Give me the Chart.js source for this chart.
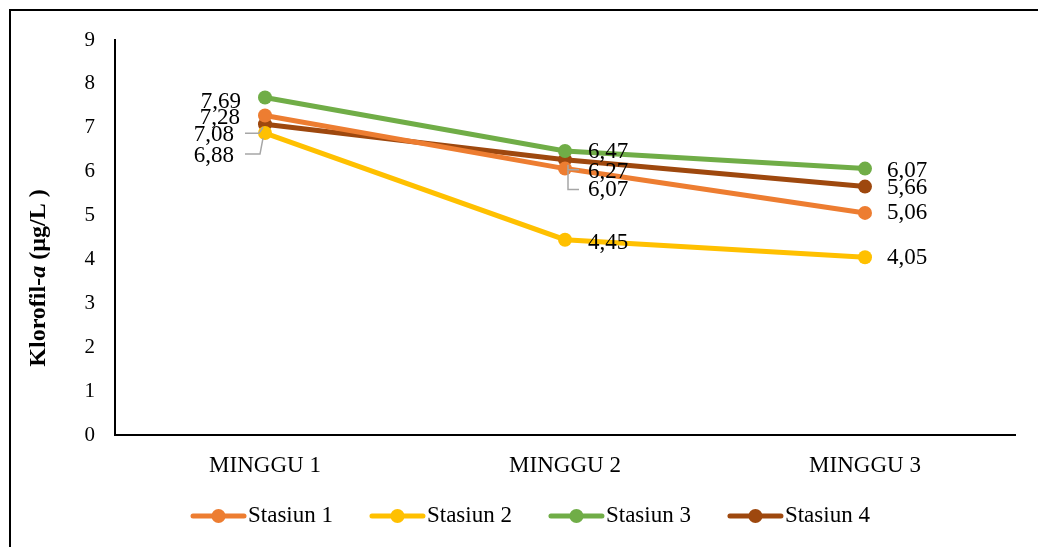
<!DOCTYPE html>
<html>
<head>
<meta charset="utf-8">
<script src="https://cdn.jsdelivr.net/npm/chart.js@4"></script>
<style>
  html, body { margin: 0; padding: 0; background: #ffffff; }
  #wrap { width: 1038px; height: 547px; position: relative; }
</style>
</head>
<body>
<div id="wrap"><canvas id="chart" width="1038" height="547"></canvas></div>
<script>
// Weekly chlorophyll-a readings (µg/L) at four stations
const categories = ['MINGGU 1', 'MINGGU 2', 'MINGGU 3'];
const stasiun1 = [7.28, 6.07, 5.06];
const stasiun2 = [6.88, 4.45, 4.05];
const stasiun3 = [7.69, 6.47, 6.07];
const stasiun4 = [7.08, 6.27, 5.66];
const seriesNames = ['Stasiun 1', 'Stasiun 2', 'Stasiun 3', 'Stasiun 4'];
const yTickValues = [0, 1, 2, 3, 4, 5, 6, 7, 8, 9];

const seriesValues = [stasiun1, stasiun2, stasiun3, stasiun4];
const seriesColors = ['#ED7D31', '#FFC000', '#70AD47', '#9E480E'];
const FONT = '"Liberation Serif", "Times New Roman", serif';

// Value-label placement relative to each point: offset, alignment and optional leader line
const labelLayout = [
  [ {dx: -25, dy: 2, align: 'right'},
    {dx: 23, dy: 21, align: 'left', leader: [[3, 2], [3, 21], [14, 21]]},
    {dx: 22, dy: 0, align: 'left'} ],
  [ {dx: -31, dy: 23, align: 'right', leader: [[-2, 5], [-5, 21], [-20, 21]]},
    {dx: 23, dy: 3, align: 'left'},
    {dx: 22, dy: 1, align: 'left'} ],
  [ {dx: -24, dy: 4, align: 'right'},
    {dx: 23, dy: 1, align: 'left'},
    {dx: 22, dy: 2, align: 'left'} ],
  [ {dx: -31, dy: 11, align: 'right', leader: [[-2, 3], [-6, 9], [-20, 9]]},
    {dx: 23, dy: 12, align: 'left', leader: [[3, 5], [3, 10], [14, 10]]},
    {dx: 22, dy: 1, align: 'left'} ]
];

const fmt = v => v.toFixed(2).replace('.', ',');

// Value labels with grey leader lines
const valueLabels = {
  id: 'valueLabels',
  afterDatasetsDraw(chart) {
    const ctx = chart.ctx;
    ctx.save();
    ctx.font = '23px ' + FONT;
    ctx.textBaseline = 'middle';
    chart.data.datasets.forEach((ds, i) => {
      const meta = chart.getDatasetMeta(i);
      meta.data.forEach((pt, j) => {
        const cfg = labelLayout[i][j];
        if (cfg.leader) {
          ctx.strokeStyle = '#A6A6A6';
          ctx.lineWidth = 1.5;
          ctx.beginPath();
          cfg.leader.forEach((p, k) => {
            const fn = k === 0 ? 'moveTo' : 'lineTo';
            ctx[fn](pt.x + p[0], pt.y + p[1]);
          });
          ctx.stroke();
        }
        ctx.fillStyle = '#000';
        ctx.textAlign = cfg.align;
        ctx.fillText(fmt(ds.data[j]), pt.x + cfg.dx, pt.y + cfg.dy);
      });
    });
    ctx.restore();
  }
};

// Frame, rotated y-axis title with italic "a", and bottom legend
const decorations = {
  id: 'decorations',
  afterDraw(chart) {
    const ctx = chart.ctx;
    ctx.save();
    // frame
    ctx.strokeStyle = '#000';
    ctx.lineWidth = 2;
    ctx.beginPath();
    ctx.moveTo(10, 547);
    ctx.lineTo(10, 10);
    ctx.lineTo(1038, 10);
    ctx.stroke();

    // y-axis title
    const parts = [
      {t: 'Klorofil-', f: 'bold 24px ' + FONT},
      {t: 'a', f: 'italic bold 24px ' + FONT},
      {t: ' (µg/L )', f: 'bold 24px ' + FONT}
    ];
    let total = 0;
    parts.forEach(p => { ctx.font = p.f; p.w = ctx.measureText(p.t).width; total += p.w; });
    ctx.translate(39, 278);
    ctx.rotate(-Math.PI / 2);
    ctx.fillStyle = '#000';
    ctx.textBaseline = 'middle';
    ctx.textAlign = 'left';
    let x = -total / 2;
    parts.forEach(p => { ctx.font = p.f; ctx.fillText(p.t, x, 0); x += p.w; });
    ctx.setTransform(1, 0, 0, 1, 0, 0);

    // legend
    ctx.font = '23px ' + FONT;
    ctx.textBaseline = 'middle';
    const ly = 516;
    let lx = 191;
    chart.data.datasets.forEach((ds, i) => {
      ctx.strokeStyle = ds.borderColor;
      ctx.lineWidth = 5;
      ctx.lineCap = 'round';
      ctx.beginPath();
      ctx.moveTo(lx + 2, ly);
      ctx.lineTo(lx + 53, ly);
      ctx.stroke();
      ctx.fillStyle = ds.borderColor;
      ctx.beginPath();
      ctx.arc(lx + 27.5, ly, 7, 0, Math.PI * 2);
      ctx.fill();
      ctx.fillStyle = '#000';
      ctx.fillText(ds.label, lx + 57, ly);
      lx += 57 + ctx.measureText(ds.label).width + 37;
    });
    ctx.restore();
  }
};

new Chart(document.getElementById('chart'), {
  type: 'line',
  data: {
    labels: categories,
    datasets: seriesNames.map((name, i) => ({
      label: name,
      data: seriesValues[i],
      borderColor: seriesColors[i],
      backgroundColor: seriesColors[i],
      pointBackgroundColor: seriesColors[i],
      pointBorderColor: seriesColors[i],
      borderWidth: 5,
      pointRadius: 7,
      pointBorderWidth: 0,
      tension: 0,
      fill: false
    }))
  },
  options: {
    responsive: false,
    animation: false,
    events: [],
    layout: { padding: { left: 0, right: 23, top: 40, bottom: 0 } },
    plugins: {
      legend: { display: false },
      tooltip: { enabled: false }
    },
    scales: {
      x: {
        offset: true,
        grid: { display: false, drawTicks: false },
        border: { display: true, color: '#000', width: 2 },
        ticks: { color: '#000', font: { family: FONT, size: 23 }, padding: 17 },
        afterFit(s) { s.height = 112; }
      },
      y: {
        min: 0,
        max: 9,
        afterBuildTicks(s) { s.ticks = yTickValues.map(v => ({value: v})); },
        grid: { display: false, drawTicks: false },
        border: { display: true, color: '#000', width: 2 },
        ticks: { color: '#000', font: { family: FONT, size: 21 }, padding: 20 },
        afterFit(s) { s.width = 115; }
      }
    }
  },
  plugins: [valueLabels, decorations]
});
</script>
</body>
</html>
